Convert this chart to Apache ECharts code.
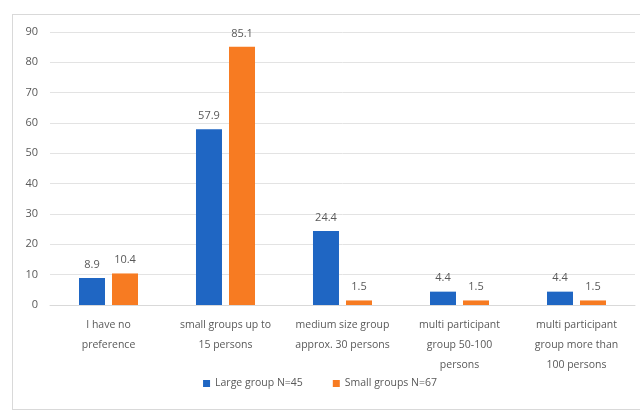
<!DOCTYPE html>
<html>
<head>
<meta charset="utf-8">
<script src="https://cdn.jsdelivr.net/npm/echarts@6/dist/echarts.min.js"></script>
<style>
  html, body { margin: 0; padding: 0; background: #fff; }
  #frame { position: absolute; left: 12px; top: 14px; width: 640px; height: 396px; border: 1px solid #d9d9d9; box-sizing: border-box; }
  #chart { position: absolute; left: 0; top: 0; width: 640px; height: 416px; }
</style>
</head>
<body>
<div id="frame"></div>
<div id="chart"></div>
<script>
// Group size preference, percent of respondents
const categories = [
  'I have no\npreference',
  'small groups up to\n15 persons',
  'medium size group\napprox. 30 persons',
  'multi participant\ngroup 50-100\npersons',
  'multi participant\ngroup more than\n100 persons'
];
const largeGroup = [8.9, 57.9, 24.4, 4.4, 4.4];
const smallGroups = [10.4, 85.1, 1.5, 1.5, 1.5];
const seriesNames = ['Large group N=45', 'Small groups N=67'];
const yTicks = { min: 0, max: 90, interval: 10 };

const textColor = '#595959';
const fontFamily = 'Open Sans, Liberation Sans, sans-serif';

const chart = echarts.init(document.getElementById('chart'), null, { renderer: 'canvas' });

const labelStyle = {
  show: true,
  position: 'top',
  color: textColor,
  fontSize: 11,
  fontFamily: fontFamily,
  distance: 8
};

chart.setOption({
  animation: false,
  grid: { left: 50, right: 5, top: 32, bottom: 111 },
  legend: {
    bottom: 22,
    left: 'center',
    itemWidth: 7,
    itemHeight: 7,
    itemGap: 30,
    icon: 'rect',
    textStyle: { color: textColor, fontSize: 10.5, fontFamily: fontFamily },
    data: seriesNames
  },
  xAxis: {
    type: 'category',
    data: categories,
    axisLine: { lineStyle: { color: '#d9d9d9' } },
    axisTick: { show: false },
    axisLabel: {
      color: textColor,
      fontSize: 10.5,
      fontFamily: fontFamily,
      lineHeight: 20,
      margin: 10,
      interval: 0
    }
  },
  yAxis: {
    type: 'value',
    min: yTicks.min,
    max: yTicks.max,
    interval: yTicks.interval,
    axisLine: { show: false },
    axisTick: { show: false },
    splitLine: { lineStyle: { color: '#e3e3e3', width: 1 } },
    axisLabel: { color: textColor, fontSize: 11, fontFamily: fontFamily, margin: 12 }
  },
  series: [
    {
      name: seriesNames[0],
      type: 'bar',
      data: largeGroup,
      barWidth: 26,
      barGap: '27%',
      itemStyle: { color: '#1f66c3' },
      label: labelStyle
    },
    {
      name: seriesNames[1],
      type: 'bar',
      data: smallGroups,
      barWidth: 26,
      itemStyle: { color: '#f77b22' },
      label: labelStyle
    }
  ]
});
</script>
</body>
</html>
